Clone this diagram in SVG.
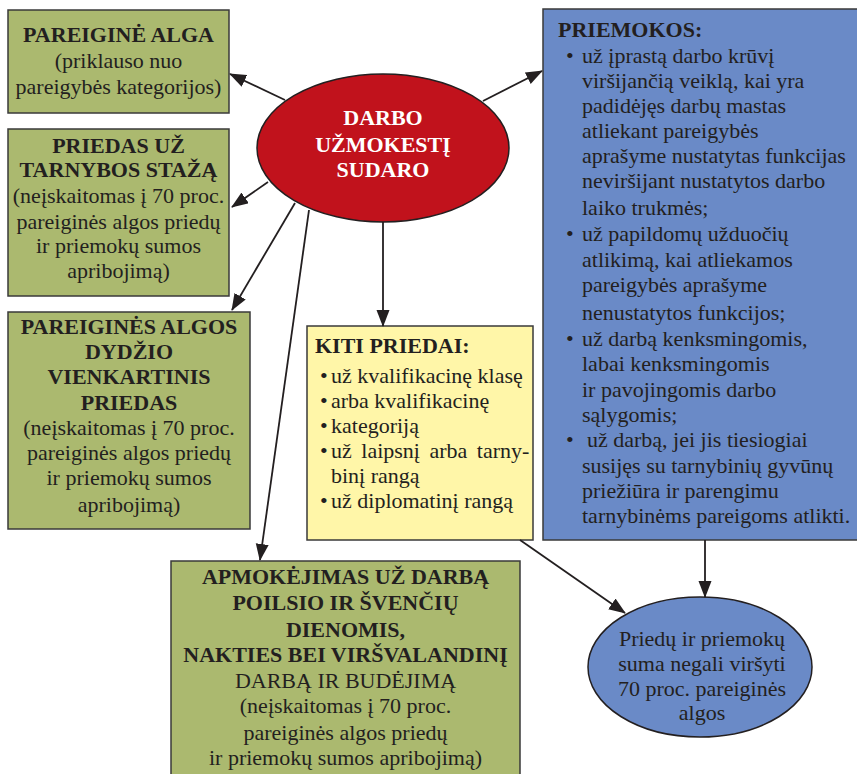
<svg xmlns="http://www.w3.org/2000/svg" width="857" height="774" viewBox="0 0 857 774">
<defs>
<style>
.t{font-family:"Liberation Serif","Times New Roman",serif;font-size:22px;fill:#231f20}
.b{font-weight:bold}
.c{text-anchor:middle}
.w{fill:#ffffff}
.box{stroke:#3a3a3a;stroke-width:1.5}
.g{fill:#abb96f}
.conn line{stroke:#231f20;stroke-width:1.8;marker-end:url(#ah)}
</style>
<marker id="ah" markerUnits="userSpaceOnUse" markerWidth="18" markerHeight="14" refX="16" refY="6.5" orient="auto" viewBox="0 0 18 14">
<path d="M0,0 L17,6.5 L0,13 z" fill="#231f20"/>
</marker>
</defs>
<rect width="857" height="774" fill="#ffffff"/>

<g id="pareigine-alga">
<rect class="box g" x="8" y="10" width="221" height="103"/>
<text class="t b c" x="118.5" y="42">PAREIGINĖ ALGA</text>
<text class="t c" x="118.5" y="68">(priklauso nuo</text>
<text class="t c" x="118.5" y="94">pareigybės kategorijos)</text>
</g>

<g id="priedas-stazas">
<rect class="box g" x="8" y="129" width="221" height="167"/>
<text class="t b c" x="118.5" y="153">PRIEDAS UŽ</text>
<text class="t b c" x="118.5" y="177">TARNYBOS STAŽĄ</text>
<text class="t c" x="118.5" y="203">(neįskaitomas į 70 proc.</text>
<text class="t c" x="118.5" y="229">pareiginės algos priedų</text>
<text class="t c" x="118.5" y="253">ir priemokų sumos</text>
<text class="t c" x="118.5" y="278">apribojimą)</text>
</g>

<g id="vienkartinis-priedas">
<rect class="box g" x="8" y="312" width="242" height="217"/>
<text class="t b c" x="129" y="334">PAREIGINĖS ALGOS</text>
<text class="t b c" x="129" y="359">DYDŽIO</text>
<text class="t b c" x="129" y="384">VIENKARTINIS</text>
<text class="t b c" x="129" y="410">PRIEDAS</text>
<text class="t c" x="129" y="435">(neįskaitomas į 70 proc.</text>
<text class="t c" x="129" y="460">pareiginės algos priedų</text>
<text class="t c" x="129" y="485">ir priemokų sumos</text>
<text class="t c" x="129" y="512">apribojimą)</text>
</g>

<g id="darbo-uzmokestis">
<ellipse cx="383" cy="148" rx="126" ry="74" fill="#c1121c" stroke="#231f20" stroke-width="1.5"/>
<text class="t b c w" x="383" y="125">DARBO</text>
<text class="t b c w" x="383" y="152">UŽMOKESTĮ</text>
<text class="t b c w" x="383" y="177">SUDARO</text>
</g>

<g id="priemokos">
<rect class="box" x="543" y="9" width="320" height="531" fill="#6a8ac7"/>
<text class="t b" x="558" y="37">PRIEMOKOS:</text>
<text class="t" x="566" y="63">•</text><text class="t" x="582" y="63">už įprastą darbo krūvį</text>
<text class="t" x="582" y="88">viršijančią veiklą, kai yra</text>
<text class="t" x="582" y="113">padidėjęs darbų mastas</text>
<text class="t" x="582" y="138">atliekant pareigybės</text>
<text class="t" x="582" y="163">aprašyme nustatytas funkcijas</text>
<text class="t" x="582" y="188">neviršijant nustatytos darbo</text>
<text class="t" x="582" y="215">laiko trukmės;</text>
<text class="t" x="566" y="241">•</text><text class="t" x="582" y="241">už papildomų užduočių</text>
<text class="t" x="582" y="267">atlikimą, kai atliekamos</text>
<text class="t" x="582" y="292">pareigybės aprašyme</text>
<text class="t" x="582" y="320">nenustatytos funkcijos;</text>
<text class="t" x="566" y="346">•</text><text class="t" x="582" y="346">už darbą kenksmingomis,</text>
<text class="t" x="582" y="371">labai kenksmingomis</text>
<text class="t" x="582" y="397">ir pavojingomis darbo</text>
<text class="t" x="582" y="422">sąlygomis;</text>
<text class="t" x="566" y="447">•</text><text class="t" x="587" y="447">už darbą, jei jis tiesiogiai</text>
<text class="t" x="582" y="473">susijęs su tarnybinių gyvūnų</text>
<text class="t" x="582" y="498">priežiūra ir parengimu</text>
<text class="t" x="582" y="523">tarnybinėms pareigoms atlikti.</text>
</g>

<g id="kiti-priedai">
<rect class="box" x="307" y="326" width="226" height="214" fill="#fff6a8"/>
<text class="t b" x="315" y="353">KITI PRIEDAI:</text>
<text class="t" x="320" y="383">•</text><text class="t" x="331" y="383">už kvalifikacinę klasę</text>
<text class="t" x="320" y="408">•</text><text class="t" x="331" y="408">arba kvalifikacinę</text>
<text class="t" x="320" y="433">•</text><text class="t" x="331" y="433">kategoriją</text>
<text class="t" x="320" y="458">•</text><text class="t" x="331" y="458" word-spacing="4">už laipsnį arba tarny-</text>
<text class="t" x="331" y="483">binį rangą</text>
<text class="t" x="320" y="508">•</text><text class="t" x="331" y="508">už diplomatinį rangą</text>
</g>

<g id="apmokejimas">
<rect class="box g" x="171" y="561" width="349" height="220"/>
<text class="t b c" x="345.5" y="584">APMOKĖJIMAS UŽ DARBĄ</text>
<text class="t b c" x="345.5" y="610">POILSIO IR ŠVENČIŲ</text>
<text class="t b c" x="345.5" y="637">DIENOMIS,</text>
<text class="t b c" x="345.5" y="662">NAKTIES BEI VIRŠVALANDINĮ</text>
<text class="t c" x="345.5" y="688">DARBĄ IR BUDĖJIMĄ</text>
<text class="t c" x="345.5" y="713">(neįskaitomas į 70 proc.</text>
<text class="t c" x="345.5" y="740">pareiginės algos priedų</text>
<text class="t c" x="345.5" y="765">ir priemokų sumos apribojimą)</text>
</g>

<g id="riba">
<ellipse cx="700" cy="667" rx="112" ry="70" fill="#6a8ac7" stroke="#231f20" stroke-width="1.5"/>
<text class="t c" x="702" y="646">Priedų ir priemokų</text>
<text class="t c" x="702" y="671">suma negali viršyti</text>
<text class="t c" x="702" y="696">70 proc. pareiginės</text>
<text class="t c" x="702" y="720">algos</text>
</g>

<g id="connectors" class="conn">
<line x1="285" y1="100" x2="230" y2="74"/>
<line x1="268" y1="182" x2="232" y2="207"/>
<line x1="295" y1="203" x2="232" y2="310"/>
<line x1="309" y1="210" x2="260" y2="560"/>
<line x1="383" y1="222" x2="383" y2="326"/>
<line x1="483" y1="101" x2="542" y2="71"/>
<line x1="520" y1="540" x2="625" y2="613"/>
<line x1="705" y1="540" x2="705" y2="597"/>
</g>
</svg>
